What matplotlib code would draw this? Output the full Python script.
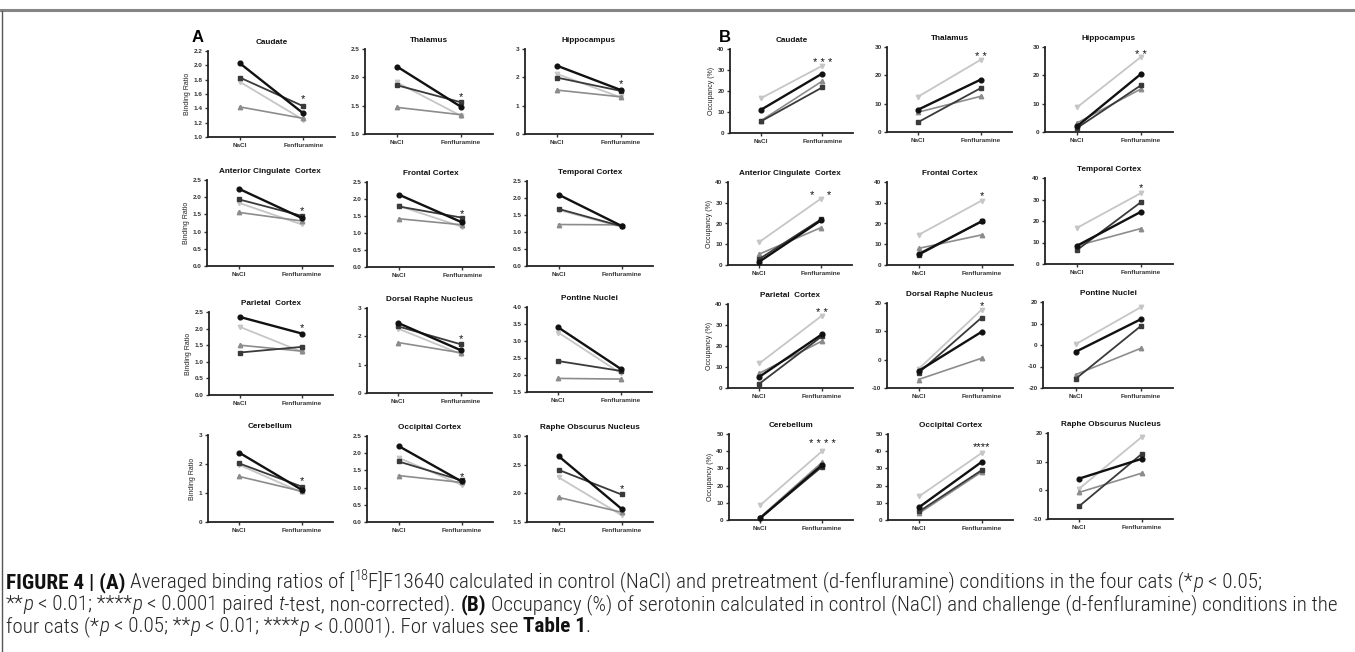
import matplotlib
matplotlib.use("Agg")
import matplotlib.pyplot as plt
from matplotlib import font_manager

# ---------------- data ----------------
conditions = ["NaCl", "Fenfluramine"]
regions = ["Caudate", "Thalamus", "Hippocampus",
           "Anterior Cingulate  Cortex", "Frontal Cortex", "Temporal Cortex",
           "Parietal  Cortex", "Dorsal Raphe Nucleus", "Pontine Nuclei",
           "Cerebellum", "Occipital Cortex", "Raphe Obscurus Nucleus"]

# Panel A: binding ratio (NaCl, Fenfluramine) for the four cats
A_cat1 = [(2.03, 1.33), (2.19, 1.48), (2.41, 1.55), (2.25, 1.40), (2.13, 1.31), (2.10, 1.18),
          (2.35, 1.85), (2.47, 1.51), (3.40, 2.18), (2.39, 1.11), (2.21, 1.18), (2.65, 1.73)]
A_cat2 = [(1.83, 1.43), (1.86, 1.56), (1.99, 1.52), (1.94, 1.46), (1.78, 1.45), (1.68, 1.17),
          (1.28, 1.45), (2.35, 1.72), (2.41, 2.12), (2.02, 1.22), (1.76, 1.21), (2.41, 1.98)]
A_cat3 = [(1.77, 1.24), (1.91, 1.32), (2.12, 1.29), (1.84, 1.21), (1.80, 1.18), (1.65, 1.15),
          (2.05, 1.30), (2.27, 1.38), (3.25, 2.05), (1.97, 1.02), (1.87, 1.08), (2.28, 1.62)]
A_cat4 = [(1.42, 1.26), (1.47, 1.34), (1.55, 1.31), (1.56, 1.31), (1.42, 1.24), (1.22, 1.21),
          (1.50, 1.32), (1.78, 1.42), (1.90, 1.88), (1.57, 1.06), (1.35, 1.15), (1.93, 1.67)]
A_stars = ["*", "*", "*", "*", "*", "", "*", "*", "", "*", "*", "*"]
A_star_y = [1.57, 1.71, 1.85, 1.68, 1.63, None, 2.10, 2.02, None, 1.50, 1.40, 2.13]
A_ylims = [(1.0, 2.2, 0.2, 1), (1.0, 2.5, 0.5, 1), (0, 3, 1, 0), (0, 2.5, 0.5, 1),
           (0, 2.5, 0.5, 1), (0, 2.5, 0.5, 1), (0, 2.5, 0.5, 1), (0, 3, 1, 0),
           (1.5, 4.0, 0.5, 1), (0, 3, 1, 0), (0, 2.5, 0.5, 1), (1.5, 3.0, 0.5, 1)]

# Panel B: occupancy (%)
B_cat1 = [(11.0, 28.3), (7.9, 18.5), (2.0, 20.5), (1.5, 21.5), (5.2, 21.0), (8.5, 24.3),
          (5.3, 25.5), (-4.0, 9.8), (-3.2, 11.9), (1.0, 32.0), (7.5, 33.8), (4.1, 11.0)]
B_cat2 = [(5.5, 21.7), (3.5, 15.5), (1.4, 16.5), (2.8, 22.0), (4.8, 21.0), (6.5, 28.8),
          (2.0, 24.6), (-4.7, 14.8), (-15.8, 8.7), (1.0, 31.0), (5.0, 29.0), (-5.5, 12.7)]
B_cat3 = [(16.5, 32.0), (12.5, 25.5), (8.7, 26.5), (11.0, 32.0), (14.5, 31.0), (16.8, 33.0),
          (11.7, 34.4), (-3.3, 17.6), (0.3, 17.5), (8.5, 40.0), (13.8, 39.0), (0.6, 18.6)]
B_cat4 = [(5.8, 24.7), (7.0, 12.6), (3.2, 15.2), (5.2, 18.0), (8.0, 14.5), (8.5, 16.5),
          (7.0, 22.3), (-7.0, 0.5), (-13.8, -1.6), (1.5, 33.5), (4.0, 28.0), (-0.7, 6.0)]
B_stars = ["* * *", "* *", "* *", "*    *", "*", "*", "* *", "*", "* *", "* * * *", "****", "*"]
B_star_y = [34.8, 27.3, 28.1, 34.4, 34.4, 36.5, 37.3, 20.0, 20.6, 45.8, 43.8, 20.6]
B_ylims = [(0, 40, 10, 0), (0, 30, 10, 0), (0, 30, 10, 0), (0, 40, 10, 0), (0, 40, 10, 0),
           (0, 40, 10, 0), (0, 40, 10, 0), (-10, 20, 10, 0), (-20, 20, 10, 0),
           (0, 50, 10, 0), (0, 50, 10, 0), (-10, 20, 10, 0)]

# ---------------- layout (pixels: left, right, top, bottom) ----------------
W, H = 1355, 652
A_boxes = [(208, 335, 51, 137), (365, 493, 49, 134), (525, 653, 49, 134),
           (207, 333, 180, 266), (367, 494, 182, 267), (527, 653, 181, 266),
           (209, 333, 312, 395), (367, 492, 308, 393), (527, 652, 307, 392),
           (208, 333, 435, 522), (367, 493, 436, 522), (527, 653, 436, 522)]
B_boxes = [(730, 853, 49, 133), (887, 1012, 47, 132), (1045, 1173, 47, 132),
           (728, 852, 182, 265), (887, 1013, 182, 265), (1045, 1173, 178, 264),
           (728, 853, 304, 388), (887, 1013, 303, 388), (1043, 1173, 302, 388),
           (729, 853, 434, 520), (888, 1013, 434, 520), (1048, 1173, 433, 519)]

plt.rcParams["font.family"] = ["Liberation Sans", "DejaVu Sans"]
fig = plt.figure(figsize=(W / 100, H / 100), dpi=100)
fig.patch.set_facecolor("white")

series_style = [  # drawn order: light, triangle, square, black
    dict(color="#c6c6c6", marker="v", lw=1.3, ms=3.2, z=2),
    dict(color="#8c8c8c", marker="^", lw=1.2, ms=3.2, z=3),
    dict(color="#3a3a3a", marker="s", lw=1.3, ms=3.2, z=4),
    dict(color="#111111", marker="o", lw=1.7, ms=3.4, z=5),
]


def make_axes(box, ylim, title, ylabel, cats, star, star_y, decimals):
    l, r, t, b = box
    ax = fig.add_axes([l / W, 1 - b / H, (r - l) / W, (b - t) / H])
    x = [0, 1]
    for vals, st in zip(cats, series_style):
        ax.plot(x, list(vals), color=st["color"], marker=st["marker"], lw=st["lw"],
                ms=st["ms"], mec=st["color"], mfc=st["color"], zorder=st["z"], clip_on=False)
    lo, hi, step, _ = ylim
    ax.set_ylim(lo, hi)
    ax.set_xlim(-0.5, 1.5)
    n = int(round((hi - lo) / step))
    ticks = [lo + i * step for i in range(n + 1)]
    ax.set_yticks(ticks)
    ax.set_yticklabels([f"{v:.{decimals}f}" for v in ticks], fontweight="bold")
    ax.set_xticks(x)
    ax.set_xticklabels(conditions, fontweight="bold")
    for s in ("top", "right"):
        ax.spines[s].set_visible(False)
    for s in ("left", "bottom"):
        ax.spines[s].set_linewidth(1.3)
        ax.spines[s].set_color("#222222")
    ax.tick_params(axis="both", length=2.5, width=1.0, labelsize=4.6, pad=1.5, colors="#333333")
    ax.set_title(title, fontsize=5.9, fontweight="bold", pad=5, color="#111111")
    if ylabel:
        ax.set_ylabel(ylabel, fontsize=5.0, labelpad=2, color="#222222")
    if star and star_y is not None:
        ax.annotate(star, xy=(1, star_y), xytext=(0, -4.2), textcoords="offset points",
                    ha="center", va="baseline", fontsize=8, color="#111111")
    return ax


for i in range(12):
    cats = [A_cat3[i], A_cat4[i], A_cat2[i], A_cat1[i]]
    make_axes(A_boxes[i], A_ylims[i], regions[i], "Binding Ratio" if i % 3 == 0 else None,
              cats, A_stars[i], A_star_y[i], A_ylims[i][3])
    cats = [B_cat3[i], B_cat4[i], B_cat2[i], B_cat1[i]]
    make_axes(B_boxes[i], B_ylims[i], regions[i], "Occupancy (%)" if i % 3 == 0 else None,
              cats, B_stars[i], B_star_y[i], 0)

fig.text(198 / W, 1 - 38 / H, "A", fontsize=12, fontweight="bold", ha="center", va="center")
fig.text(725 / W, 1 - 37 / H, "B", fontsize=12, fontweight="bold", ha="center", va="center")

# frame lines
fig.add_artist(plt.Line2D([0, 1], [1 - 10 / H, 1 - 10 / H], transform=fig.transFigure,
                          color="#858585", lw=2.2))
fig.add_artist(plt.Line2D([1.5 / W, 1.5 / W], [0, 1 - 11 / H], transform=fig.transFigure,
                          color="#555555", lw=1.0))

# ---------------- caption ----------------
names = {f.name for f in font_manager.fontManager.ttflist}
cap_family = "Liberation Sans"
for cand in ("Roboto Condensed", "Liberation Sans Narrow", "Roboto"):
    if cand in names:
        cap_family = cand
        break
regular_weight = 300 if cap_family.startswith("Roboto") else "normal"

cap_line1 = [("FIGURE 4 | (A)", "b"), (" Averaged binding ratios of [", ""), ("18", "sup"),
             ("F]F13640 calculated in control (NaCl) and pretreatment (d-fenfluramine) "
              "conditions in the four cats (*", ""), ("p", "i"), (" < 0.05;", "")]
cap_line2 = [("**", ""), ("p", "i"), (" < 0.01; ****", ""), ("p", "i"), (" < 0.0001 paired ", ""),
             ("t", "i"), ("-test, non-corrected). ", ""), ("(B)", "b"),
             (" Occupancy (%) of serotonin calculated in control (NaCl) and challenge "
              "(d-fenfluramine) conditions in the", "")]
cap_line3 = [("four cats (*", ""), ("p", "i"), (" < 0.05; **", ""), ("p", "i"), (" < 0.01; ****", ""),
             ("p", "i"), (" < 0.0001). For values see ", ""), ("Table 1", "b"), (".", "")]

renderer = fig.canvas.get_renderer()


def props(fs, style):
    d = dict(fontsize=fs, family=cap_family, color="#262626", va="baseline", ha="left",
             fontweight=regular_weight)
    if "b" in style:
        d["fontweight"] = "bold"
        d["color"] = "#111111"
    if "i" in style:
        d["fontstyle"] = "italic"
    if "sup" in style:
        d["fontsize"] = fs * 0.68
    return d


def text_w(s, fs, style):
    if not s:
        return 0.0
    t = fig.text(0, 0, s, **props(fs, style))
    w = t.get_window_extent(renderer).width
    t.remove()
    return w


def draw_line(pieces, x0, y_base, fs, draw=True):
    sw = text_w("a a", fs, "") - text_w("aa", fs, "")
    x = x0
    for s, style in pieces:
        lead = len(s) - len(s.lstrip(" "))
        trail = len(s) - len(s.rstrip(" "))
        core = s.strip(" ")
        x += lead * sw
        if draw and core:
            dy = 0.38 * fs * 100 / 72 if "sup" in style else 0
            fig.text(x / W, 1 - (y_base - dy) / H, core, **props(fs, style))
        x += text_w(core, fs, style) + trail * sw
    return x


fs0 = 10.0
w2 = draw_line(cap_line2, 0, 0, fs0, draw=False)
fs = fs0 * (1337 - 6) / w2
draw_line(cap_line1, 6, 588, fs)
draw_line(cap_line2, 6, 610, fs)
draw_line(cap_line3, 6, 632, fs)

fig.savefig("out.png", dpi=100, facecolor="white")
